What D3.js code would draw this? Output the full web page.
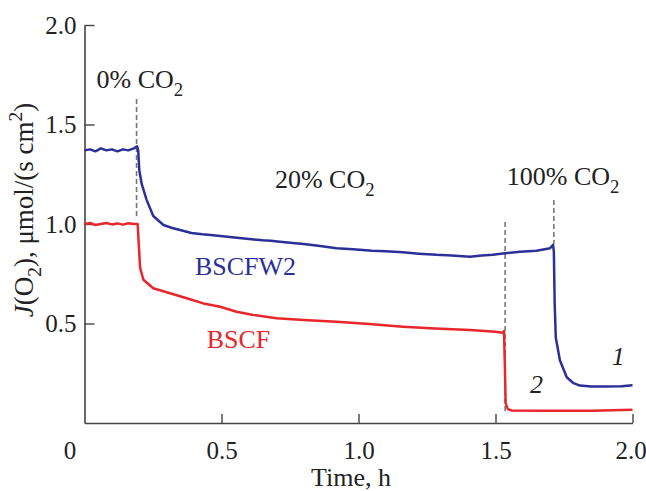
<!DOCTYPE html>
<html>
<head>
<meta charset="utf-8">
<script src="https://cdn.jsdelivr.net/npm/d3@7"></script>
<style>
  body { margin: 0; background: #fff; }
  text { font-family: "Liberation Serif", "Times New Roman", serif; fill: #222; }
</style>
</head>
<body>
<div id="chart"></div>
<script>
// time (h) and oxygen flux J(O2)
var timeBSCFW2 = [0, 0.02, 0.04, 0.06, 0.08, 0.1, 0.12, 0.14, 0.16, 0.18, 0.192,
    0.196, 0.2, 0.209, 0.227, 0.251, 0.288, 0.32, 0.349, 0.39, 0.43, 0.47, 0.53, 0.592,
    0.65, 0.68, 0.713, 0.76, 0.8, 0.86, 0.92, 0.98, 1.05, 1.1, 1.162, 1.22, 1.285,
    1.34, 1.407, 1.45, 1.49, 1.527, 1.589, 1.65, 1.699, 1.71, 1.713, 1.716, 1.72,
    1.735, 1.76, 1.785, 1.808, 1.85, 1.9, 1.96, 2.0];
var fluxBSCFW2 = [1.37, 1.375, 1.365, 1.38, 1.37, 1.375, 1.365, 1.375, 1.37, 1.38, 1.39,
    1.37, 1.27, 1.2, 1.12, 1.04, 0.995, 0.98, 0.97, 0.955, 0.948, 0.943, 0.935, 0.926,
    0.918, 0.916, 0.911, 0.905, 0.9, 0.889, 0.878, 0.873, 0.866, 0.863, 0.858, 0.851, 0.845,
    0.842, 0.836, 0.842, 0.846, 0.852, 0.861, 0.866, 0.878, 0.895, 0.86, 0.6, 0.43,
    0.315, 0.23, 0.2, 0.188, 0.184, 0.183, 0.185, 0.19];

var timeBSCF = [0, 0.02, 0.04, 0.06, 0.08, 0.1, 0.12, 0.14, 0.16, 0.18, 0.194,
    0.198, 0.203, 0.215, 0.251, 0.312, 0.373, 0.434, 0.495, 0.555, 0.616, 0.701, 0.8,
    0.92, 1.04, 1.162, 1.28, 1.407, 1.5, 1.527, 1.531, 1.534, 1.537, 1.545, 1.56,
    1.687, 1.85, 2.0];
var fluxBSCF = [1.0, 1.005, 0.995, 1.0, 1.005, 0.998, 1.003, 0.997, 1.004, 1.0, 1.0,
    0.9, 0.78, 0.72, 0.677, 0.652, 0.627, 0.601, 0.584, 0.559, 0.543, 0.526, 0.518,
    0.509, 0.497, 0.484, 0.475, 0.467, 0.458, 0.454, 0.462, 0.3, 0.1, 0.07, 0.063,
    0.062, 0.062, 0.066];

// gas switch markers: time, top and bottom of the dashed line
var switchTimes = [0.19, 1.535, 1.713];
var switchTop = [1.628, 1.01, 1.12];
var switchBottom = [1.04, 0.05, 0.9];

var xTicks = [0, 0.5, 1.0, 1.5, 2.0];
var yTicks = [0.5, 1.0, 1.5, 2.0];

var gasLabels = ["0%", "20%", "100%"];
var seriesNames = ["BSCFW2", "BSCF"];
var curveNumbers = ["1", "2"];

var width = 646;
var height = 491;
var serif = '"Liberation Serif", "Times New Roman", serif';

var svg = d3.select("#chart").append("svg")
    .attr("width", width)
    .attr("height", height)
    .style("font-family", serif);

var x = d3.scaleLinear().domain([0, 2]).range([84.5, 632.5]);
var y = d3.scaleLinear().domain([0, 2]).range([423, 25]);

// writes text with sub/superscript pieces
function richText(g, px, py, parts, size, anchor) {
    var t = g.append("text")
        .attr("x", px)
        .attr("y", py)
        .style("font-family", serif)
        .style("font-size", size + "px")
        .attr("text-anchor", anchor || "start");
    var shift = 0;
    parts.forEach(function(p) {
        var target = 0;
        var fs = size;
        if (p.sub) { target = 0.3 * size; fs = 0.72 * size; }
        if (p.sup) { target = -0.4 * size; fs = 0.72 * size; }
        t.append("tspan")
            .attr("dy", (target - shift) + "px")
            .style("font-size", fs + "px")
            .style("font-style", p.italic ? "italic" : null)
            .text(p.t);
        shift = target;
    });
    return t;
}

// axes
var yAxis = d3.axisLeft(y)
    .tickValues(yTicks)
    .tickFormat(d3.format(".1f"))
    .tickSizeInner(-10)
    .tickSizeOuter(0)
    .tickPadding(8);

var xAxis = d3.axisBottom(x)
    .tickValues(xTicks)
    .tickFormat(function(d) { return d === 0 ? "0" : d3.format(".1f")(d); })
    .tickSizeInner(-9)
    .tickSizeOuter(0)
    .tickPadding(18);

var gy = svg.append("g").attr("transform", "translate(" + x(0) + ",0)").call(yAxis);
var gx = svg.append("g").attr("transform", "translate(0," + y(0) + ")").call(xAxis);

[gx, gy].forEach(function(g) {
    g.attr("font-family", null).attr("font-size", null);
    g.select(".domain").attr("stroke", "#444").attr("stroke-width", 1.6);
    g.selectAll(".tick line").attr("stroke", "#444").attr("stroke-width", 1.4);
    g.selectAll(".tick text")
        .attr("fill", "#222")
        .style("font-family", serif)
        .style("font-size", "25px");
});
gx.selectAll(".tick").filter(function(d) { return d === 0; })
    .select("text").attr("x", -15);
gx.selectAll(".tick").filter(function(d) { return d === 0; })
    .select("line").remove();
gx.selectAll(".tick").filter(function(d) { return d === 2; })
    .select("text").attr("x", -2);

// axis titles
svg.append("text")
    .attr("x", 351)
    .attr("y", 486)
    .attr("text-anchor", "middle")
    .style("font-family", serif)
    .style("font-size", "26px")
    .text("Time, h");

var yTitle = svg.append("g").attr("transform", "translate(33,210) rotate(-90)");
richText(yTitle, 0, 0, [
    { t: "J", italic: true },
    { t: "(O" }, { t: "2", sub: true },
    { t: "), μmol/(s cm" }, { t: "2", sup: true },
    { t: ")" }
], 27, "middle");

// dashed switch lines
svg.selectAll(".switch")
    .data(switchTimes)
    .enter().append("line")
    .attr("class", "switch")
    .attr("x1", d => x(d))
    .attr("x2", d => x(d))
    .attr("y1", (d, i) => y(switchTop[i]))
    .attr("y2", (d, i) => y(switchBottom[i]))
    .attr("stroke", "#777")
    .attr("stroke-width", 1.6)
    .attr("stroke-dasharray", "5,3");

// curves
var line = d3.line()
    .x(d => x(d[0]))
    .y(d => y(d[1]));

var curves = [
    { t: timeBSCF, v: fluxBSCF, color: "#e8262b" },
    { t: timeBSCFW2, v: fluxBSCFW2, color: "#2c2f98" }
];

curves.forEach(function(c) {
    svg.append("path")
        .datum(c.t.map((t, i) => [t, c.v[i]]))
        .attr("fill", "none")
        .attr("stroke", c.color)
        .attr("stroke-width", 2.5)
        .attr("stroke-linejoin", "round")
        .attr("d", line);
});

// gas composition labels
var gasPos = [[0.044, 1.683], [0.695, 1.179], [1.541, 1.196]];
gasLabels.forEach(function(lbl, i) {
    richText(svg, x(gasPos[i][0]), y(gasPos[i][1]),
        [{ t: lbl + " CO" }, { t: "2", sub: true }], 26);
});

// series names
svg.append("text")
    .attr("x", x(0.403)).attr("y", y(0.744))
    .style("font-family", serif)
    .style("font-size", "26px")
    .style("fill", "#2c2f98")
    .text(seriesNames[0]);
svg.append("text")
    .attr("x", x(0.446)).attr("y", y(0.375))
    .style("font-family", serif)
    .style("font-size", "26px")
    .style("fill", "#e8262b")
    .text(seriesNames[1]);

// curve numbers
svg.append("text")
    .attr("x", x(1.924)).attr("y", y(0.291))
    .style("font-family", serif)
    .style("font-size", "26px").style("font-style", "italic")
    .text(curveNumbers[0]);
svg.append("text")
    .attr("x", x(1.626)).attr("y", y(0.151))
    .style("font-family", serif)
    .style("font-size", "26px").style("font-style", "italic")
    .text(curveNumbers[1]);
</script>
</body>
</html>
